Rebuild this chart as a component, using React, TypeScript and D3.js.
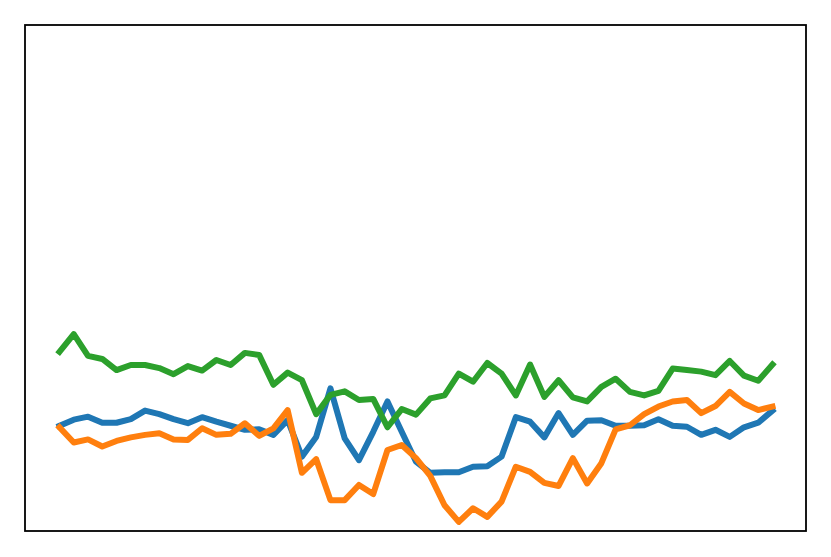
import React from "react";
import * as d3 from "d3";

const WIDTH = 831;
const HEIGHT = 557;

const blueValues = [
  20.8, 22.0, 22.6, 21.4, 21.4, 22.1, 23.8, 23.1, 22.1, 21.3, 22.5, 21.6, 20.8,
  20.0, 20.1, 19.0, 21.9, 14.7, 18.6, 28.2, 18.3, 14.0, 19.6, 25.6, 19.6, 13.7,
  11.5, 11.6, 11.6, 12.7, 12.8, 14.7, 22.5, 21.6, 18.5, 23.3, 19.0, 21.8, 21.9,
  20.8, 20.8, 20.9, 22.1, 20.8, 20.6, 19.0, 20.0, 18.6, 20.5, 21.4, 23.8,
];

const orangeValues = [
  20.5, 17.5, 18.1, 16.7, 17.8, 18.5, 19.0, 19.3, 18.1, 18.0, 20.3, 19.0, 19.2,
  21.3, 18.8, 20.3, 23.9, 11.5, 14.2, 6.1, 6.1, 9.1, 7.3, 16.0, 17.0, 14.4,
  10.9, 5.1, 1.8, 4.5, 2.8, 5.8, 12.7, 11.7, 9.5, 8.9, 14.4, 9.4, 13.4, 20.1,
  20.9, 23.1, 24.6, 25.6, 25.9, 23.3, 24.7, 27.5, 25.2, 23.9, 24.6,
];

const greenValues = [
  35.4, 38.9, 34.6, 34.0, 31.8, 32.8, 32.8, 32.2, 31.0, 32.6, 31.7, 33.8, 32.8,
  35.2, 34.8, 28.9, 31.3, 29.8, 23.1, 26.9, 27.6, 25.9, 26.1, 20.5, 24.1, 23.0,
  26.2, 26.8, 31.1, 29.5, 33.2, 31.1, 26.8, 32.9, 26.5, 29.8, 26.4, 25.6, 28.5,
  30.1, 27.5, 26.8, 27.7, 32.1, 31.8, 31.5, 30.8, 33.6, 30.7, 29.7, 32.9,
];

const seriesColors = ["#1f77b4", "#ff7f0e", "#2ca02c"];
const seriesList = [blueValues, orangeValues, greenValues];

export default function App() {
  const left = 25;
  const top = 25;
  const right = 806;
  const bottom = 531;

  const x = d3.scaleLinear().domain([0, blueValues.length - 1]).range([59.5, 772.5]);
  const y = d3.scaleLinear().domain([0, 100]).range([bottom, top]);

  const line = d3
    .line<number>()
    .x((_, i) => x(i))
    .y((d) => y(d));

  return (
    <svg
      width={WIDTH}
      height={HEIGHT}
      style={{ position: "fixed", left: 0, top: 0, background: "#fff" }}
    >
      <rect x={0} y={0} width={WIDTH} height={HEIGHT} fill="#fff" />
      <defs>
        <clipPath id="plotclip">
          <rect x={left} y={top} width={right - left} height={bottom - top} />
        </clipPath>
      </defs>
      <g clipPath="url(#plotclip)">
        {seriesList.map((vals, k) => (
          <path
            key={k}
            d={line(vals) || ""}
            fill="none"
            stroke={seriesColors[k]}
            strokeWidth={6}
            strokeLinejoin="round"
            strokeLinecap="square"
          />
        ))}
      </g>
      <rect
        x={left}
        y={top}
        width={right - left}
        height={bottom - top}
        fill="none"
        stroke="#000"
        strokeWidth={1.8}
      />
    </svg>
  );
}
